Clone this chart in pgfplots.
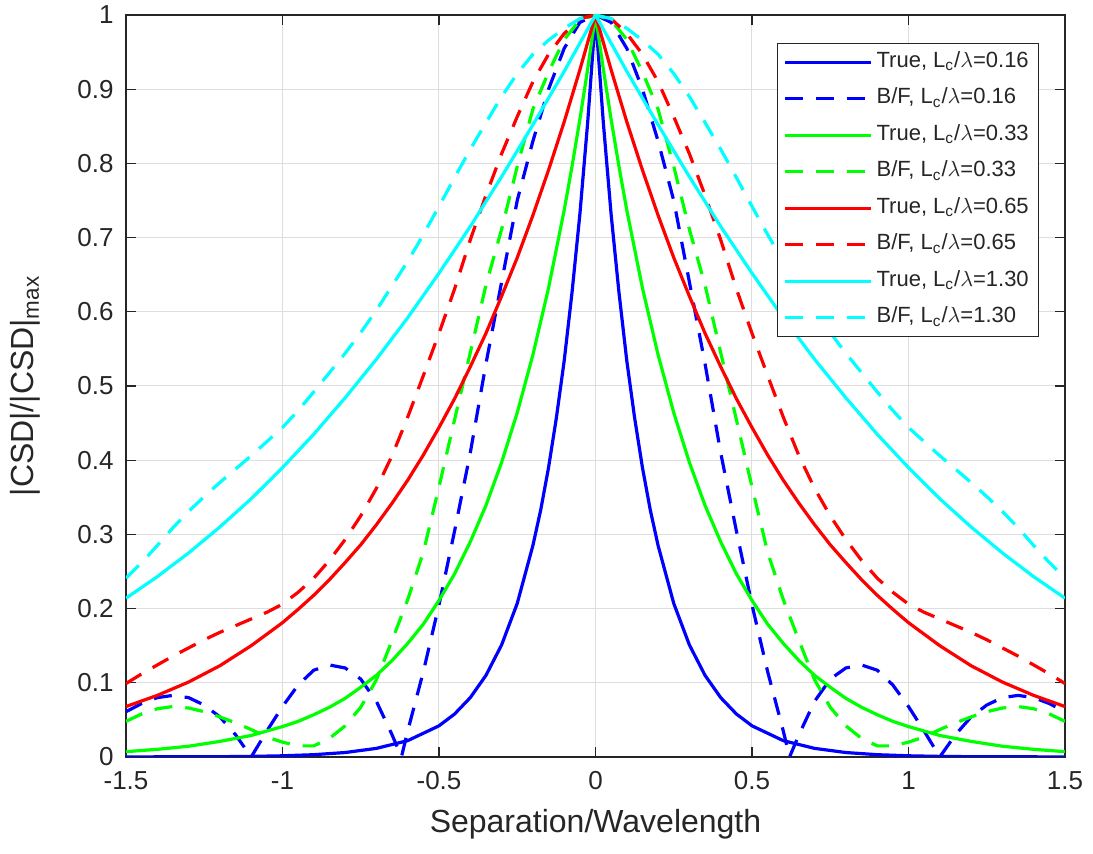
\documentclass[border=0pt]{standalone}
\usepackage{fontspec}
\setmainfont{Liberation Sans}
\usepackage{pgfplots}
\pgfplotsset{compat=1.18}
\definecolor{axgray}{RGB}{38,38,38}
\definecolor{gridgray}{RGB}{222,222,222}
\definecolor{mblue}{RGB}{0,0,255}
\definecolor{mgreen}{RGB}{0,255,0}
\definecolor{mred}{RGB}{255,0,0}
\definecolor{mcyan}{RGB}{0,255,255}
\begin{document}
\begin{tikzpicture}
\useasboundingbox (-63pt,-48.5pt) rectangle (483.5pt,378.5pt);
\begin{axis}[
  at={(0,0)}, anchor=south west,
  scale only axis, width=469.5pt, height=371pt,
  xmin=-1.5, xmax=1.5, ymin=0, ymax=1,
  xtick={-1.5,-1,-0.5,0,0.5,1,1.5},
  xticklabels={-1.5,-1,-0.5,0,0.5,1,1.5},
  ytick={0,0.1,0.2,0.3,0.4,0.5,0.6,0.7,0.8,0.9,1},
  yticklabels={0,0.1,0.2,0.3,0.4,0.5,0.6,0.7,0.8,0.9,1},
  grid=major, grid style={gridgray, line width=0.5pt},
  axis line style={axgray, line width=0.6pt},
  tick style={axgray, line width=0.6pt},
  major tick length=5pt, tick align=inside,
  tick label style={font=\fontsize{13}{15}\selectfont, text=axgray, inner sep=1pt},
  xticklabel style={yshift=-6pt},
  yticklabel style={xshift=-5pt},
  label style={font=\fontsize{16}{19}\selectfont, text=axgray},
  xlabel={Separation/Wavelength},
  ylabel={|CSD|/|CSD|\textsubscript{max}},
  xlabel style={yshift=-5pt},
  ylabel style={yshift=14pt},
  legend cell align=left,
  legend image code/.code={\draw[#1] (0pt,0pt) -- (43pt,0pt);},
  legend style={at={(0.6933,0.9623)}, anchor=north west, draw=axgray, fill=white,
    font=\fontsize{11}{13}\selectfont, text=axgray, row sep=3.5pt,
    inner xsep=3pt, inner ysep=2pt,
    nodes={text height=8pt, text depth=2.75pt, inner ysep=2pt}},
  every axis plot/.append style={line width=1.6pt},
  dashline/.style={dash pattern=on 9pt off 6.5pt},
]
% True, Lc=0.16
\addplot[mblue] coordinates {(-1.5,0.0001)(-1.2,0.0004)(-1.1,0.0008)(-1.0,0.0016)(-0.9,0.0031)(-0.8,0.0060)(-0.7,0.0116)(-0.6,0.022)(-0.5,0.042)(-0.45,0.058)(-0.4,0.080)(-0.35,0.110)(-0.3,0.151)(-0.25,0.207)(-0.2,0.285)(-0.175,0.333)(-0.15,0.390)(-0.125,0.457)(-0.1,0.534)(-0.075,0.626)(-0.05,0.731)(-0.025,0.855)(0,1)(0.025,0.855)(0.05,0.731)(0.075,0.626)(0.1,0.534)(0.125,0.457)(0.15,0.390)(0.175,0.333)(0.2,0.285)(0.25,0.207)(0.3,0.151)(0.35,0.110)(0.4,0.080)(0.45,0.058)(0.5,0.042)(0.6,0.022)(0.7,0.0116)(0.8,0.0060)(0.9,0.0031)(1.0,0.0016)(1.1,0.0008)(1.2,0.0004)(1.5,0.0001)};
\addlegendentry{True, L\textsubscript{c}/$\lambda$=0.16}
% B/F, Lc=0.16
\addplot[mblue, dashline] coordinates {(-1.5,0.061)(-1.45,0.072)(-1.4,0.080)(-1.35,0.083)(-1.3,0.080)(-1.25,0.070)(-1.2,0.054)(-1.15,0.030)(-1.1,0.0)(-1.05,0.035)(-1.0,0.068)(-0.95,0.097)(-0.9,0.117)(-0.85,0.124)(-0.8,0.120)(-0.75,0.105)(-0.7,0.075)(-0.65,0.030)(-0.62,0.0)(-0.6,0.035)(-0.55,0.115)(-0.5,0.205)(-0.45,0.305)(-0.4,0.41)(-0.35,0.53)(-0.3,0.64)(-0.25,0.75)(-0.2,0.83)(-0.15,0.90)(-0.1,0.955)(-0.05,0.99)(0,1)(0.05,0.99)(0.1,0.955)(0.15,0.90)(0.2,0.83)(0.25,0.75)(0.3,0.64)(0.35,0.53)(0.4,0.41)(0.45,0.305)(0.5,0.205)(0.55,0.115)(0.6,0.035)(0.62,0.0)(0.65,0.030)(0.7,0.075)(0.75,0.105)(0.8,0.120)(0.85,0.124)(0.9,0.117)(0.95,0.097)(1.0,0.068)(1.05,0.035)(1.1,0.0)(1.15,0.030)(1.2,0.054)(1.25,0.070)(1.3,0.080)(1.35,0.083)(1.4,0.080)(1.45,0.072)(1.5,0.061)};
\addlegendentry{B/F, L\textsubscript{c}/$\lambda$=0.16}
% True, Lc=0.33
\addplot[mgreen] coordinates {(-1.5,0.0072)(-1.4,0.0103)(-1.3,0.0145)(-1.2,0.021)(-1.1,0.029)(-1.0,0.041)(-0.95,0.048)(-0.9,0.057)(-0.85,0.067)(-0.8,0.079)(-0.75,0.094)(-0.7,0.110)(-0.65,0.130)(-0.6,0.153)(-0.55,0.179)(-0.5,0.211)(-0.45,0.247)(-0.4,0.290)(-0.35,0.339)(-0.3,0.397)(-0.25,0.464)(-0.2,0.542)(-0.15,0.632)(-0.1,0.737)(-0.075,0.796)(-0.05,0.859)(-0.025,0.927)(0,1)(0.025,0.927)(0.05,0.859)(0.075,0.796)(0.1,0.737)(0.15,0.632)(0.2,0.542)(0.25,0.464)(0.3,0.397)(0.35,0.339)(0.4,0.290)(0.45,0.247)(0.5,0.211)(0.55,0.179)(0.6,0.153)(0.65,0.130)(0.7,0.110)(0.75,0.094)(0.8,0.079)(0.85,0.067)(0.9,0.057)(0.95,0.048)(1.0,0.041)(1.1,0.029)(1.2,0.021)(1.3,0.0145)(1.4,0.0103)(1.5,0.0072)};
\addlegendentry{True, L\textsubscript{c}/$\lambda$=0.33}
% B/F, Lc=0.33
\addplot[mgreen, dashline] coordinates {(-1.5,0.048)(-1.45,0.058)(-1.4,0.065)(-1.35,0.068)(-1.3,0.066)(-1.25,0.061)(-1.2,0.054)(-1.15,0.046)(-1.1,0.037)(-1.05,0.027)(-1.0,0.020)(-0.95,0.015)(-0.9,0.015)(-0.85,0.025)(-0.8,0.042)(-0.75,0.067)(-0.7,0.104)(-0.65,0.157)(-0.6,0.212)(-0.55,0.276)(-0.5,0.364)(-0.45,0.455)(-0.4,0.545)(-0.35,0.636)(-0.3,0.711)(-0.25,0.796)(-0.2,0.873)(-0.15,0.923)(-0.1,0.967)(-0.05,0.993)(0,1)(0.05,0.993)(0.1,0.967)(0.15,0.923)(0.2,0.873)(0.25,0.796)(0.3,0.711)(0.35,0.636)(0.4,0.545)(0.45,0.455)(0.5,0.364)(0.55,0.276)(0.6,0.212)(0.65,0.157)(0.7,0.104)(0.75,0.067)(0.8,0.042)(0.85,0.025)(0.9,0.015)(0.95,0.015)(1.0,0.020)(1.05,0.027)(1.1,0.037)(1.15,0.046)(1.2,0.054)(1.25,0.061)(1.3,0.066)(1.35,0.068)(1.4,0.065)(1.45,0.058)(1.5,0.048)};
\addlegendentry{B/F, L\textsubscript{c}/$\lambda$=0.33}
% True, Lc=0.65
\addplot[mred] coordinates {(-1.5,0.068)(-1.4,0.083)(-1.3,0.101)(-1.2,0.123)(-1.1,0.150)(-1.0,0.181)(-0.95,0.199)(-0.9,0.218)(-0.85,0.239)(-0.8,0.262)(-0.75,0.286)(-0.7,0.313)(-0.65,0.342)(-0.6,0.373)(-0.55,0.407)(-0.5,0.444)(-0.45,0.483)(-0.4,0.526)(-0.35,0.571)(-0.3,0.621)(-0.25,0.673)(-0.2,0.730)(-0.15,0.791)(-0.1,0.856)(-0.05,0.926)(0,1)(0.05,0.926)(0.1,0.856)(0.15,0.791)(0.2,0.730)(0.25,0.673)(0.3,0.621)(0.35,0.571)(0.4,0.526)(0.45,0.483)(0.5,0.444)(0.55,0.407)(0.6,0.373)(0.65,0.342)(0.7,0.313)(0.75,0.286)(0.8,0.262)(0.85,0.239)(0.9,0.218)(0.95,0.199)(1.0,0.181)(1.1,0.150)(1.2,0.123)(1.3,0.101)(1.4,0.083)(1.5,0.068)};
\addlegendentry{True, L\textsubscript{c}/$\lambda$=0.65}
% B/F, Lc=0.65
\addplot[mred, dashline] coordinates {(-1.5,0.099)(-1.45,0.112)(-1.4,0.124)(-1.35,0.136)(-1.3,0.147)(-1.25,0.158)(-1.2,0.168)(-1.15,0.177)(-1.1,0.186)(-1.05,0.195)(-1.0,0.206)(-0.95,0.222)(-0.9,0.241)(-0.85,0.265)(-0.8,0.293)(-0.75,0.325)(-0.7,0.362)(-0.65,0.406)(-0.6,0.458)(-0.55,0.514)(-0.5,0.571)(-0.45,0.631)(-0.4,0.697)(-0.35,0.757)(-0.3,0.813)(-0.25,0.863)(-0.2,0.910)(-0.15,0.947)(-0.1,0.975)(-0.05,0.995)(0,1)(0.05,0.995)(0.1,0.975)(0.15,0.947)(0.2,0.910)(0.25,0.863)(0.3,0.813)(0.35,0.757)(0.4,0.697)(0.45,0.631)(0.5,0.571)(0.55,0.514)(0.6,0.458)(0.65,0.406)(0.7,0.362)(0.75,0.325)(0.8,0.293)(0.85,0.265)(0.9,0.241)(0.95,0.222)(1.0,0.206)(1.05,0.195)(1.1,0.186)(1.15,0.177)(1.2,0.168)(1.25,0.158)(1.3,0.147)(1.35,0.136)(1.4,0.124)(1.45,0.112)(1.5,0.099)};
\addlegendentry{B/F, L\textsubscript{c}/$\lambda$=0.65}
% True, Lc=1.30
\addplot[mcyan] coordinates {(-1.5,0.214)(-1.4,0.243)(-1.3,0.275)(-1.2,0.310)(-1.1,0.348)(-1.0,0.390)(-0.9,0.435)(-0.8,0.484)(-0.7,0.536)(-0.6,0.592)(-0.5,0.652)(-0.4,0.715)(-0.3,0.782)(-0.2,0.852)(-0.1,0.924)(0,1)(0.1,0.924)(0.2,0.852)(0.3,0.782)(0.4,0.715)(0.5,0.652)(0.6,0.592)(0.7,0.536)(0.8,0.484)(0.9,0.435)(1.0,0.390)(1.1,0.348)(1.2,0.310)(1.3,0.275)(1.4,0.243)(1.5,0.214)};
\addlegendentry{True, L\textsubscript{c}/$\lambda$=1.30}
% B/F, Lc=1.30
\addplot[mcyan, dashline] coordinates {(-1.5,0.241)(-1.45,0.262)(-1.4,0.285)(-1.35,0.309)(-1.3,0.331)(-1.25,0.351)(-1.2,0.370)(-1.15,0.388)(-1.1,0.406)(-1.05,0.425)(-1.0,0.444)(-0.95,0.467)(-0.9,0.492)(-0.85,0.518)(-0.8,0.544)(-0.75,0.572)(-0.7,0.602)(-0.65,0.635)(-0.6,0.668)(-0.55,0.704)(-0.5,0.742)(-0.45,0.781)(-0.4,0.819)(-0.35,0.855)(-0.3,0.890)(-0.25,0.921)(-0.2,0.947)(-0.15,0.966)(-0.1,0.982)(-0.05,0.995)(0,1)(0.05,0.995)(0.1,0.982)(0.15,0.966)(0.2,0.947)(0.25,0.921)(0.3,0.890)(0.35,0.855)(0.4,0.819)(0.45,0.781)(0.5,0.742)(0.55,0.704)(0.6,0.668)(0.65,0.635)(0.7,0.602)(0.75,0.572)(0.8,0.544)(0.85,0.518)(0.9,0.492)(0.95,0.467)(1.0,0.444)(1.05,0.425)(1.1,0.406)(1.15,0.388)(1.2,0.370)(1.25,0.351)(1.3,0.331)(1.35,0.309)(1.4,0.285)(1.45,0.262)(1.5,0.241)};
\addlegendentry{B/F, L\textsubscript{c}/$\lambda$=1.30}
\end{axis}
\end{tikzpicture}
\end{document}
